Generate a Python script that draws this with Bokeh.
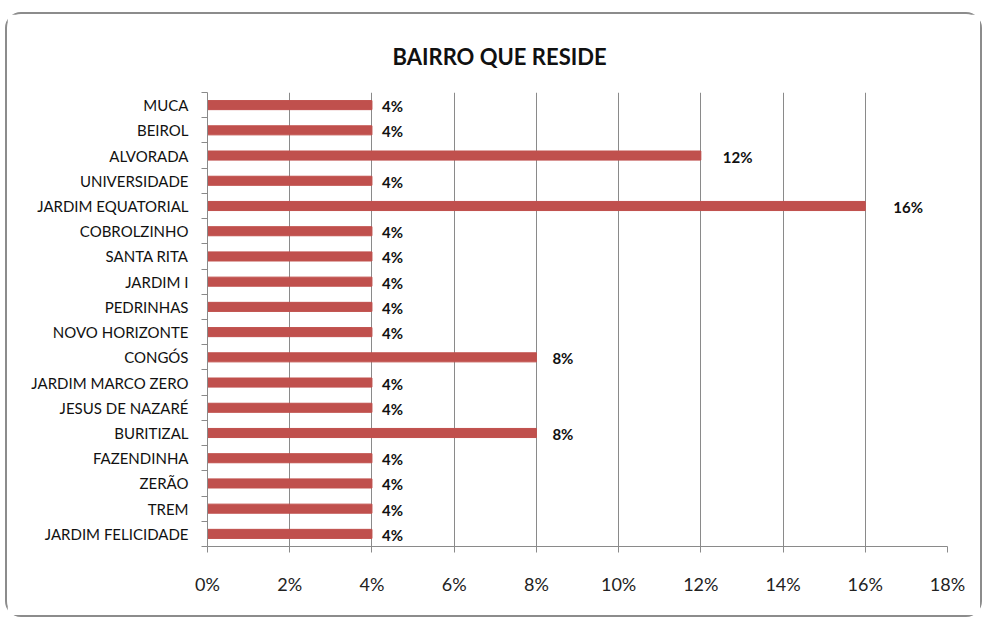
from bokeh.plotting import figure
from bokeh.models import ColumnDataSource, FixedTicker, Range1d
from bokeh.core.properties import value
from bokeh.embed import file_html
from bokeh.resources import INLINE

categories = ["MUCA", "BEIROL", "ALVORADA", "UNIVERSIDADE", "JARDIM EQUATORIAL",
              "COBROLZINHO", "SANTA RITA", "JARDIM I", "PEDRINHAS", "NOVO HORIZONTE",
              "CONGÓS", "JARDIM MARCO ZERO", "JESUS DE NAZARÉ", "BURITIZAL",
              "FAZENDINHA", "ZERÃO", "TREM", "JARDIM FELICIDADE"]
values = [4, 4, 12, 4, 16, 4, 4, 4, 4, 4, 8, 4, 4, 8, 4, 4, 4, 4]
x_ticks = [0, 2, 4, 6, 8, 10, 12, 14, 16, 18]
title_text = "BAIRRO QUE RESIDE"

n = len(categories)
ypos = [n - 1 - i for i in range(n)]
labels = [f"{v}%" for v in values]
offsets = [4 + 1.5 * v for v in values]

src = ColumnDataSource(dict(y=ypos, v=values, lab=labels, off=offsets))

FONT = "Lato"
GRID = "#8a8a8a"

p = figure(width=977, height=605, output_backend="svg", toolbar_location=None,
           x_range=Range1d(0, 18), y_range=Range1d(-0.5, n - 0.5),
           min_border_left=200, min_border_right=37, min_border_top=78, min_border_bottom=73)
p.margin = (12, 0, 0, 5)
p.styles = {"border": "2px solid #8c8c8c", "border-radius": "16px"}
p.outline_line_color = None

p.title.text = title_text
p.title.align = "left"
p.title.offset = 185
p.title.text_font = FONT
p.title.text_font_size = "22px"
p.title.text_font_style = "bold"
p.title.text_color = "#111111"
p.title.standoff = 46

p.hbar(y="y", left=0, right="v", height=0.36, color="#C0504D", source=src)
p.text(x="v", y="y", text="lab", x_offset="off", y_offset=1, source=src,
       text_font=value(FONT), text_font_size="15px", text_font_style="bold",
       text_color="#111111", text_baseline="middle", text_align="left")

# x axis
p.xaxis.ticker = FixedTicker(ticks=x_ticks)
p.xaxis.major_label_overrides = {t_: f"{t_}%" for t_ in x_ticks}
p.xaxis.major_label_text_font = FONT
p.xaxis.major_label_text_font_size = "18px"
p.xaxis.major_label_text_color = "#222222"
p.xaxis.major_label_standoff = 20
p.xaxis.axis_line_color = GRID
p.xaxis.major_tick_line_color = GRID
p.xaxis.major_tick_in = 0
p.xaxis.major_tick_out = 6
p.xaxis.minor_tick_line_color = None

# y axis
p.yaxis.ticker = FixedTicker(ticks=ypos, minor_ticks=[i - 0.5 for i in range(n + 1)])
p.yaxis.major_label_overrides = {y: c for y, c in zip(ypos, categories)}
p.yaxis.major_label_text_font = FONT
p.yaxis.major_label_text_font_size = "15px"
p.yaxis.major_label_text_color = "#111111"
p.yaxis.major_label_standoff = 13
p.yaxis.axis_line_color = GRID
p.yaxis.major_tick_line_color = None
p.yaxis.major_tick_in = 0
p.yaxis.major_tick_out = 0
p.yaxis.minor_tick_line_color = GRID
p.yaxis.minor_tick_in = 0
p.yaxis.minor_tick_out = 6

p.xgrid.ticker = FixedTicker(ticks=x_ticks)
p.xgrid.grid_line_color = GRID
p.ygrid.grid_line_color = None

open("out.html", "w").write(file_html(p, INLINE))
